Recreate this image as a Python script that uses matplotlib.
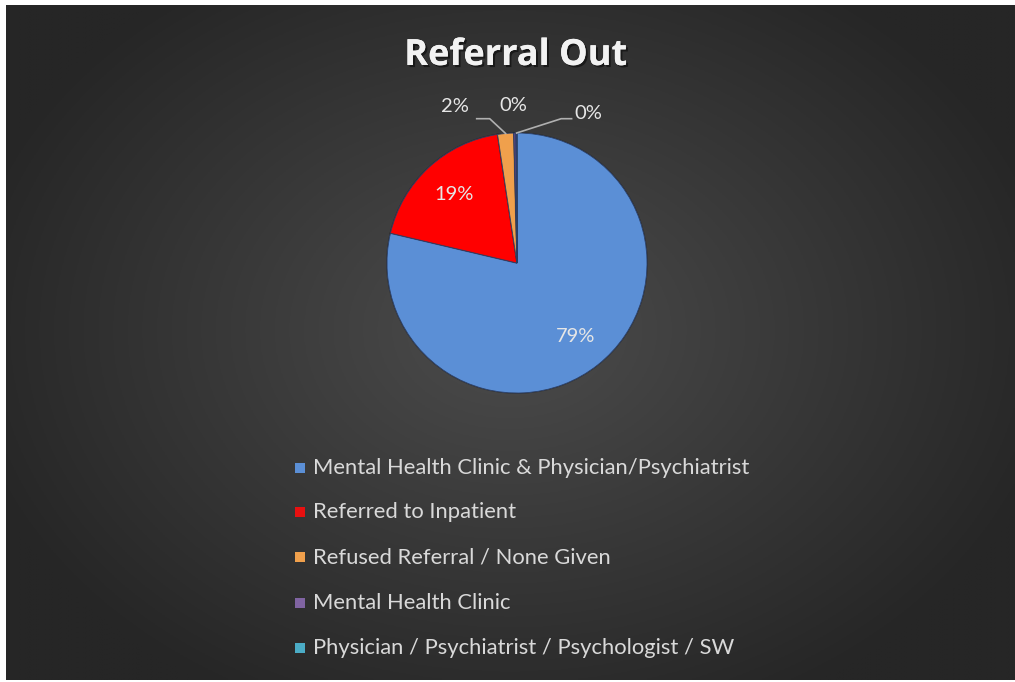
import numpy as np
import matplotlib
matplotlib.use("Agg")
import matplotlib.pyplot as plt
import matplotlib.patheffects as pe

# ---- data ----
categories = [
    "Mental Health Clinic & Physician/Psychiatrist",
    "Referred to Inpatient",
    "Refused Referral / None Given",
    "Mental Health Clinic",
    "Physician / Psychiatrist / Psychologist / SW",
]
values = [79.0, 19.0, 2.0, 0.3, 0.1]
colors = ["#5b8fd6", "#ff0000", "#f0a04c", "#5a4a8a", "#4bacc6"]
legend_colors = ["#5b8fd6", "#e81010", "#f0a04c", "#8064a2", "#4bacc6"]
title = "Referral Out"

W, H, DPI = 1015, 682, 100
fig = plt.figure(figsize=(W / DPI, H / DPI), dpi=DPI, facecolor="white")

# ---- background with radial gradient ----
bx0, bx1, by_top, by_bot = 6, 1015, 5, 680
bg = fig.add_axes([bx0 / W, (H - by_bot) / H, (bx1 - bx0) / W, (by_bot - by_top) / H])
bg.set_axis_off()
nx, ny = 400, 270
xs = np.linspace(bx0, bx1, nx)
ys = np.linspace(by_top, by_bot, ny)
X, Y = np.meshgrid(xs, ys)
cx, cy = 510, 330
d = np.sqrt(((X - cx) / 560.0) ** 2 + ((Y - cy) / 420.0) ** 2)
d = np.clip(d, 0, 1)
c_in, c_out = 0x4c / 255, 0x26 / 255
val = c_in + (c_out - c_in) * d
img = np.dstack([val, val, val])
bg.imshow(img, extent=[0, 1, 0, 1], aspect="auto", origin="upper")
bg.set_xlim(0, 1)
bg.set_ylim(0, 1)

# ---- pie ----
pcx, pcy, R = 517, 263, 130
half = 1.5 * R
ax = fig.add_axes([(pcx - half) / W, (H - pcy - half) / H, 2 * half / W, 2 * half / H])
ax.set_axis_off()

wedges, _ = ax.pie(values, colors=colors, startangle=90, counterclock=False,
                   radius=1.0, wedgeprops=dict(edgecolor="#2c3f66", linewidth=0.6))
ax.set_xlim(-1.5, 1.5)
ax.set_ylim(-1.5, 1.5)
ax.set_aspect("equal")

for w in wedges:
    w.set_path_effects([pe.withStroke(linewidth=1.2, foreground="#00000040")])

total = sum(values)
pcts = ["%.0f%%" % (v / total * 100) for v in values]

lab_color = "#e6e6e6"
lab_font = dict(family="Lato", fontsize=14.5, color=lab_color)

# big slices: labels inside
for i in (0, 1):
    w = wedges[i]
    mid = np.deg2rad((w.theta1 + w.theta2) / 2)
    ax.text(0.72 * np.cos(mid), 0.72 * np.sin(mid), pcts[i], ha="center", va="center", **lab_font)

# small slices: outside labels
line_c = "#b0b0b0"
# "2%"
w = wedges[2]
mid = np.deg2rad((w.theta1 + w.theta2) / 2)
ex, ey = np.cos(mid), np.sin(mid)
ax.text(-0.48, 1.20, pcts[2], ha="center", va="center", **lab_font)
ax.plot([-0.31, -0.21, ex], [1.11, 1.11, ey], color=line_c, lw=1.2, clip_on=False)
# middle "0%"
ax.text(-0.03, 1.21, pcts[3], ha="center", va="center", **lab_font)
# right "0%"
w = wedges[4]
mid = np.deg2rad((w.theta1 + w.theta2) / 2)
ex, ey = np.cos(mid), np.sin(mid)
ax.text(0.55, 1.15, pcts[4], ha="center", va="center", **lab_font)
ax.plot([0.42, 0.34, ex], [1.11, 1.11, ey], color=line_c, lw=1.2, clip_on=False)

# ---- title ----
fig.text(516 / W, 1 - 65 / H, title, ha="center", va="baseline", family="Open Sans",
         fontweight="bold", fontsize=26, color="#f2f2f2",
         path_effects=[pe.withSimplePatchShadow(offset=(1.5, -1.5), shadow_rgbFace="black", alpha=0.5),
                       pe.Normal()])

# ---- legend ----
leg_y = [468, 512, 557, 603, 648]
for cat, col, y in zip(categories, legend_colors, leg_y):
    fig.patches.append(plt.Rectangle((295 / W, 1 - (y + 5) / H), 10 / W, 10 / H,
                                     transform=fig.transFigure, facecolor=col,
                                     edgecolor="none"))
    fig.text(313 / W, 1 - y / H, cat, ha="left", va="center", family="Lato",
             fontsize=15.8, color="#d9d9d9")

fig.savefig("out.png", dpi=DPI, facecolor="white")
